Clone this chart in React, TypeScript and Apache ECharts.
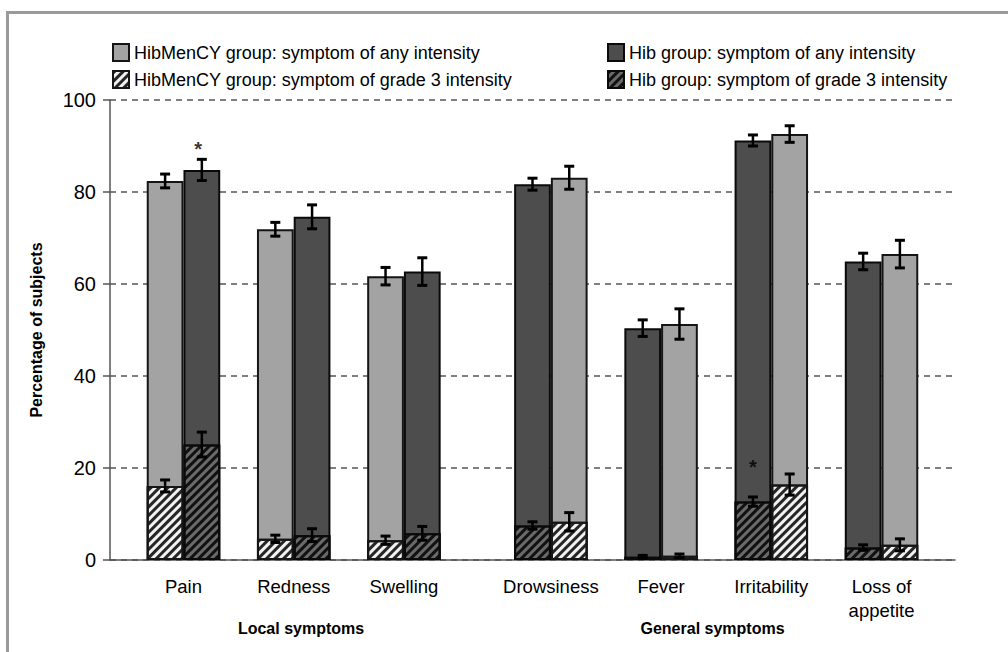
import React, { useEffect, useRef } from 'react';
import * as echarts from 'echarts';

// ---- data ----
const categories = ['Pain', 'Redness', 'Swelling', 'Drowsiness', 'Fever', 'Irritability', 'Loss of\nappetite'];
const categoryPos = [0, 3, 6, 10, 13, 16, 19];
const hibMenCYSide = [-0.5, -0.5, -0.5, 0.5, 0.5, 0.5, 0.5];
const hibSide = [0.5, 0.5, 0.5, -0.5, -0.5, -0.5, -0.5];

const menAny = [82.4, 71.9, 61.7, 83.1, 51.3, 92.6, 66.5];
const menAnyErr = [1.5, 1.5, 1.9, 2.5, 3.3, 1.8, 3.0];
const hibAny = [84.8, 74.6, 62.7, 81.7, 50.4, 91.2, 64.9];
const hibAnyErr = [2.3, 2.6, 3.0, 1.3, 1.8, 1.2, 1.8];
const menG3 = [16.1, 4.6, 4.3, 8.3, 0.9, 16.4, 3.3];
const menG3Err = [1.3, 0.8, 0.9, 2.0, 0.4, 2.3, 1.3];
const hibG3 = [25.1, 5.4, 5.8, 7.5, 0.7, 12.7, 2.7];
const hibG3Err = [2.7, 1.4, 1.5, 0.8, 0.3, 1.0, 0.6];

const seriesNames = [
  'HibMenCY group: symptom of any intensity',
  'Hib group: symptom of any intensity',
  'HibMenCY group: symptom of grade 3 intensity',
  'Hib group: symptom of grade 3 intensity',
];

const groupLabels = ['Local symptoms', 'General symptoms'];
const groupPos = [3.2, 14.4];

const starX = [0.4, 15.5];
const starY = [89.3, 20.2];

const yMin = 0;
const yMax = 100;
const yInterval = 20;
const yTitle = 'Percentage of subjects';

const FONT = '"Liberation Sans", Arial, Helvetica, sans-serif';

export default function App() {
  const ref = useRef<HTMLDivElement>(null);

  useEffect(() => {
    if (!ref.current) return;
    const chart = echarts.init(ref.current, undefined, { renderer: 'svg' });

    const xs = (side: number[]) => categoryPos.map((p, i) => p + side[i]);
    const menX = xs(hibMenCYSide);
    const hibX = xs(hibSide);

    const pairs = (x: number[], v: number[]) => x.map((xx, i) => [xx, v[i]]);
    const errs = (x: number[], v: number[], e: number[]) =>
      x.map((xx, i) => [xx, v[i] - e[i], v[i] + e[i]]);

    const lightHatch = {
      symbol: 'rect',
      symbolSize: 1,
      color: '#262626',
      dashArrayX: [1, 0],
      dashArrayY: [2.5, 3],
      rotation: -Math.PI / 4,
    };
    const darkHatch = {
      symbol: 'rect',
      symbolSize: 1,
      color: '#111111',
      dashArrayX: [1, 0],
      dashArrayY: [2.5, 3],
      rotation: -Math.PI / 4,
    };

    const barCommon = {
      type: 'bar',
      barWidth: '100%',
      barGap: '-100%',
      xAxisIndex: 0,
      yAxisIndex: 0,
    };

    const errorData = [
      ...errs(menX, menAny, menAnyErr),
      ...errs(hibX, hibAny, hibAnyErr),
      ...errs(menX, menG3, menG3Err),
      ...errs(hibX, hibG3, hibG3Err),
    ];

    const labelFor = (v: number) => {
      const i = categoryPos.findIndex((p) => Math.abs(p - v) < 1e-6);
      return i >= 0 ? categories[i] : '';
    };
    const groupFor = (v: number) => {
      const i = groupPos.findIndex((p) => Math.abs(p - v) < 1e-4);
      return i >= 0 ? groupLabels[i] : '';
    };

    const legendCommon = {
      orient: 'vertical',
      top: 38,
      itemWidth: 16,
      itemHeight: 17,
      itemGap: 8,
      icon: 'rect',
      selectedMode: false,
      textStyle: { fontFamily: FONT, fontSize: 18, color: '#000', lineHeight: 18, padding: [0, 0, 0, 0] },
    };

    chart.setOption({
      animation: false,
      backgroundColor: '#ffffff',
      textStyle: { fontFamily: FONT },
      grid: { left: 110, right: 53, top: 100, bottom: 92, containLabel: false },
      legend: [
        { ...legendCommon, left: 107, data: [seriesNames[0], seriesNames[2]] },
        { ...legendCommon, left: 602, data: [seriesNames[1], seriesNames[3]] },
      ],
      xAxis: [
        {
          type: 'value',
          min: -2,
          max: 21,
          interval: 1,
          axisLine: { show: true, onZero: false, lineStyle: { color: '#555', width: 1.5 } },
          axisTick: { show: false },
          splitLine: { show: false },
          axisLabel: {
            formatter: labelFor,
            fontFamily: FONT,
            fontSize: 18.5,
            color: '#000',
            margin: 14,
            lineHeight: 24,
            showMinLabel: true,
            showMaxLabel: true,
          },
        },
        {
          type: 'value',
          position: 'bottom',
          min: -2,
          max: 21,
          interval: 0.1,
          axisLine: { show: false, onZero: false },
          axisTick: { show: false },
          splitLine: { show: false },
          axisLabel: {
            formatter: groupFor,
            fontFamily: FONT,
            fontSize: 16,
            fontWeight: 'bold',
            color: '#000',
            margin: 60,
          },
        },
      ],
      yAxis: {
        type: 'value',
        min: yMin,
        max: yMax,
        interval: yInterval,
        name: yTitle,
        nameLocation: 'middle',
        nameGap: 66,
        nameTextStyle: { fontFamily: FONT, fontSize: 16, fontWeight: 'bold', color: '#000' },
        axisLine: { show: true, onZero: false, lineStyle: { color: '#555', width: 1.5 } },
        axisTick: { show: true, length: 7, lineStyle: { color: '#555', width: 1.5 } },
        splitLine: { show: true, lineStyle: { color: '#555', width: 1.5, type: [6, 5] } },
        axisLabel: { fontFamily: FONT, fontSize: 20, color: '#000', margin: 14 },
      },
      graphic: [
        { type: 'rect', shape: { x: 6, y: 11, width: 1002, height: 3 }, style: { fill: '#9a9a9a' }, silent: true },
        { type: 'rect', shape: { x: 6, y: 11, width: 3, height: 641 }, style: { fill: '#9a9a9a' }, silent: true },
      ],
      series: [
        {
          ...barCommon,
          name: seriesNames[0],
          data: pairs(menX, menAny),
          itemStyle: { color: '#a3a3a3', borderColor: '#151515', borderWidth: 2 },
        },
        {
          ...barCommon,
          name: seriesNames[1],
          data: pairs(hibX, hibAny),
          itemStyle: { color: '#4d4d4d', borderColor: '#0a0a0a', borderWidth: 2 },
        },
        {
          ...barCommon,
          name: seriesNames[2],
          data: pairs(menX, menG3),
          itemStyle: { color: '#f2f2f2', borderColor: '#151515', borderWidth: 2, decal: lightHatch },
        },
        {
          ...barCommon,
          name: seriesNames[3],
          data: pairs(hibX, hibG3),
          itemStyle: { color: '#6a6a6a', borderColor: '#0a0a0a', borderWidth: 2, decal: darkHatch },
        },
        {
          type: 'custom',
          name: 'error',
          xAxisIndex: 0,
          yAxisIndex: 0,
          z: 10,
          encode: { x: 0, y: [1, 2] },
          data: errorData,
          renderItem: (params: any, api: any) => {
            const x = api.value(0);
            const lo = api.coord([x, api.value(1)]);
            const hi = api.coord([x, api.value(2)]);
            const cw = 5;
            const st = { stroke: '#000', lineWidth: 2.5 };
            return {
              type: 'group',
              children: [
                { type: 'line', shape: { x1: lo[0], y1: lo[1], x2: hi[0], y2: hi[1] }, style: st },
                { type: 'line', shape: { x1: hi[0] - cw, y1: hi[1], x2: hi[0] + cw, y2: hi[1] }, style: { ...st, lineWidth: 3 } },
                { type: 'line', shape: { x1: lo[0] - cw, y1: lo[1], x2: lo[0] + cw, y2: lo[1] }, style: { ...st, lineWidth: 3 } },
              ],
            };
          },
        },
        {
          type: 'scatter',
          name: 'star',
          xAxisIndex: 0,
          yAxisIndex: 0,
          symbolSize: 0,
          z: 11,
          data: starX.map((x, i) => [x, starY[i]]),
          label: {
            show: true,
            position: 'inside',
            formatter: '*',
            fontFamily: FONT,
            fontSize: 20,
            fontWeight: 'bold',
            color: '#000',
          },
        },
      ],
    });

    return () => chart.dispose();
  }, []);

  return (
    <div
      ref={ref}
      style={{ position: 'fixed', left: 0, top: 0, width: 1008, height: 652, background: '#fff' }}
    />
  );
}
